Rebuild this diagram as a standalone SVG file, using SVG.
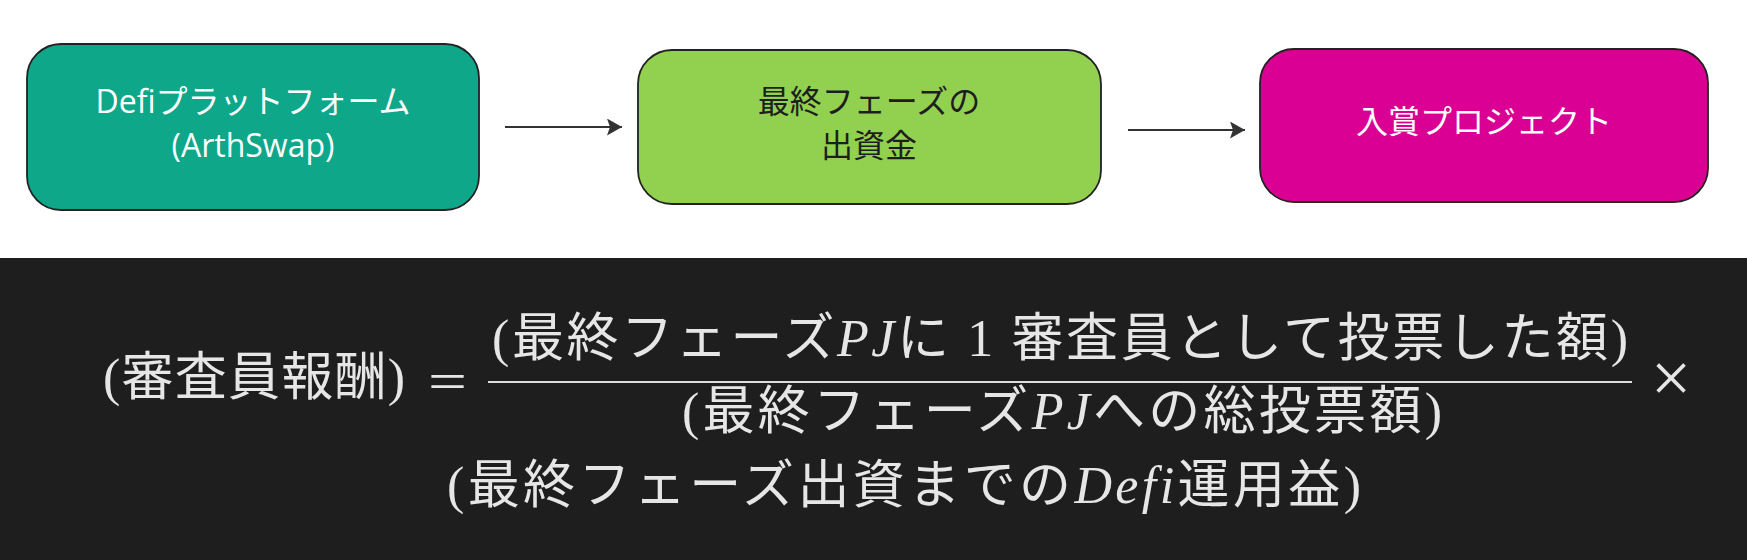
<svg xmlns="http://www.w3.org/2000/svg" width="1747" height="560" viewBox="0 0 1747 560">
<style>
.box{stroke:#222;stroke-width:1.8}
.lbl{font-family:"Open Sans","Noto Sans CJK JP",sans-serif;font-size:32px;text-anchor:middle}
.conn{stroke:#333;stroke-width:2.2;fill:none}
.math{font-family:"Liberation Serif","Noto Sans CJK JP",serif;font-size:52px;fill:#e6e6e6}
.it{font-style:italic}
</style>
<defs>
<marker id="ah" markerUnits="userSpaceOnUse" markerWidth="16" markerHeight="18" refX="15" refY="8.5" orient="auto">
<path d="M0,0 L15,8.5 L0,17 L3,8.5 Z" fill="#333"/>
</marker>
</defs>
<rect x="0" y="0" width="1747" height="560" fill="#ffffff"/>
<g id="box1">
<rect class="box" x="27" y="44" width="452" height="166" rx="34" fill="#0ea789"/>
<text class="lbl" x="253" y="113" fill="#ffffff">Defiプラットフォーム</text>
<text class="lbl" x="253" y="157" fill="#ffffff">(ArthSwap)</text>
</g>
<g id="box2">
<rect class="box" x="638" y="50" width="463" height="154" rx="34" fill="#92d14f"/>
<text class="lbl" x="869" y="113" fill="#1e1e1e">最終フェーズの</text>
<text class="lbl" x="869" y="157" fill="#1e1e1e">出資金</text>
</g>
<g id="box3">
<rect class="box" x="1260" y="49" width="448" height="153" rx="34" fill="#d90093"/>
<text class="lbl" x="1484" y="133" fill="#ffffff">入賞プロジェクト</text>
</g>
<g id="connectors">
<line class="conn" x1="505" y1="127" x2="622" y2="127" marker-end="url(#ah)"/>
<line class="conn" x1="1128" y1="130" x2="1245" y2="130" marker-end="url(#ah)"/>
</g>
<g id="formula">
<rect x="0" y="258" width="1747" height="302" fill="#1e1e1e"/>
<text class="math" x="103" y="395" textLength="302" lengthAdjust="spacing">(審査員報酬)</text>
<text class="math" x="428" y="399" textLength="39" lengthAdjust="spacingAndGlyphs">=</text>
<text class="math" x="492" y="356" textLength="1136" lengthAdjust="spacing">(最終フェーズ<tspan class="it">PJ</tspan>に 1 審査員として投票した額)</text>
<line x1="488" y1="382" x2="1632" y2="382" stroke="#dcdcdc" stroke-width="2.2"/>
<text class="math" x="682" y="429" textLength="760" lengthAdjust="spacing">(最終フェーズ<tspan class="it">PJ</tspan>への総投票額)</text>
<text class="math" x="1671" y="402" text-anchor="middle" style="font-size:72px">×</text>
<text class="math" x="447" y="503" textLength="914" lengthAdjust="spacing">(最終フェーズ出資までの<tspan class="it">Defi</tspan>運用益)</text>
</g>
</svg>
